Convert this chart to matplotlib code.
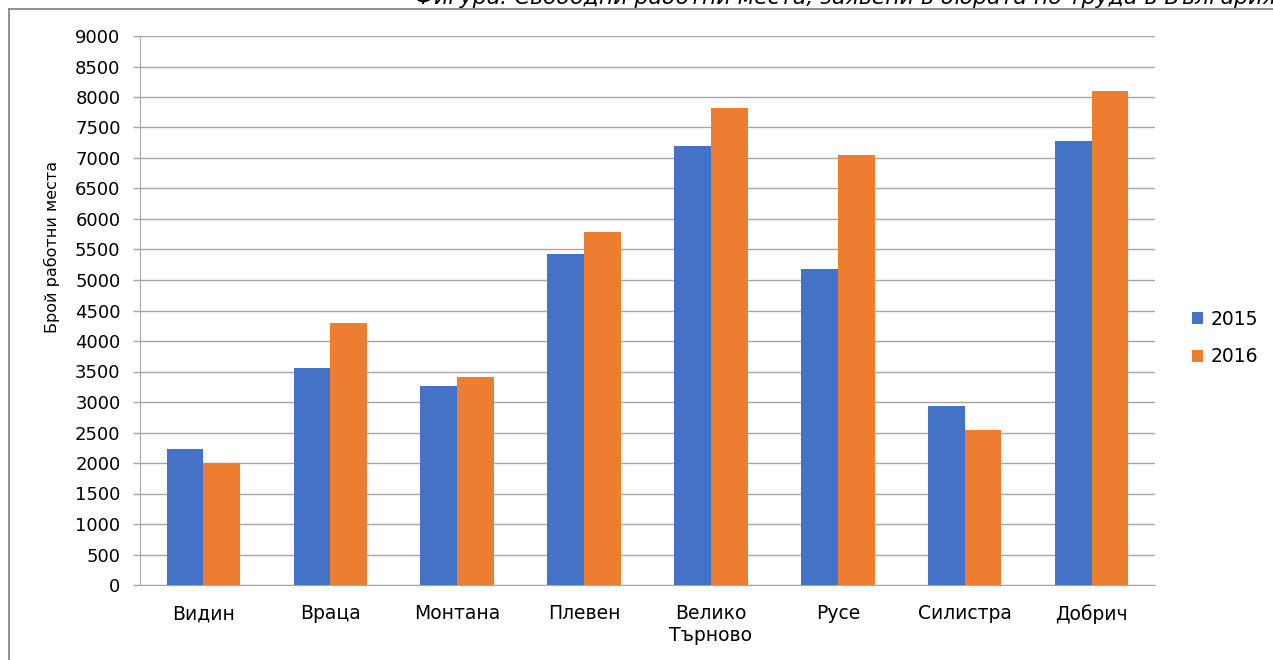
import numpy as np
import matplotlib.pyplot as plt
from matplotlib.lines import Line2D

# data
regions = ['Видин', 'Враца', 'Монтана', 'Плевен', 'Велико\nТърново', 'Русе', 'Силистра', 'Добрич']
vals_2015 = [2230, 3560, 3260, 5420, 7195, 5175, 2935, 7275]
vals_2016 = [2000, 4295, 3410, 5795, 7815, 7045, 2545, 8105]
years = ['2015', '2016']
yticks = list(range(0, 9001, 500))

W, H = 1273, 660
fig = plt.figure(figsize=(W / 100, H / 100), dpi=100)
ax = fig.add_axes([140 / W, 1 - 585 / H, 1015 / W, 549 / H])

x = np.arange(len(regions))
bw = 0.29
ax.bar(x - bw / 2, vals_2015, bw, color='#4472C4', label=years[0], zorder=3)
ax.bar(x + bw / 2, vals_2016, bw, color='#ED7D31', label=years[1], zorder=3)

ax.set_xlim(-0.5, len(regions) - 0.5)
ax.set_ylim(0, 9000)
ax.set_yticks(yticks)
ax.set_xticks(x)
ax.set_xticklabels(regions, fontsize=13.5, linespacing=1.15)
ax.tick_params(axis='y', labelsize=13, length=5, color='#a6a6a6', width=1, pad=9)
ax.tick_params(axis='x', length=0, pad=14)
ax.grid(axis='y', color='#a6a6a6', linewidth=1, zorder=0)

for s in ['top', 'right']:
    ax.spines[s].set_visible(False)
ax.spines['left'].set_color('#a6a6a6')
ax.spines['bottom'].set_color('#a6a6a6')

ax.set_ylabel('Брой работни места', fontsize=11.5)
ax.yaxis.set_label_coords(-0.079, 0.616)

ax.legend(loc='center left', bbox_to_anchor=(1.02, 0.45), frameon=False, fontsize=13.5,
          handlelength=0.6, handleheight=0.6, handletextpad=0.4, labelspacing=1.0)

# clipped caption and frame at the top
fig.text(415 / W, 1 - 4 / H, 'Фигура: Свободни работни места, заявени в бюрата по труда в България',
         fontsize=15.8, style='italic', ha='left', va='baseline')
fig.add_artist(Line2D([9 / W, 1], [1 - 9 / H, 1 - 9 / H], color='#7f7f7f', linewidth=1.2))
fig.add_artist(Line2D([9 / W, 9 / W], [0, 1 - 9 / H], color='#7f7f7f', linewidth=1.2))

fig.savefig('out.png', dpi=100)
